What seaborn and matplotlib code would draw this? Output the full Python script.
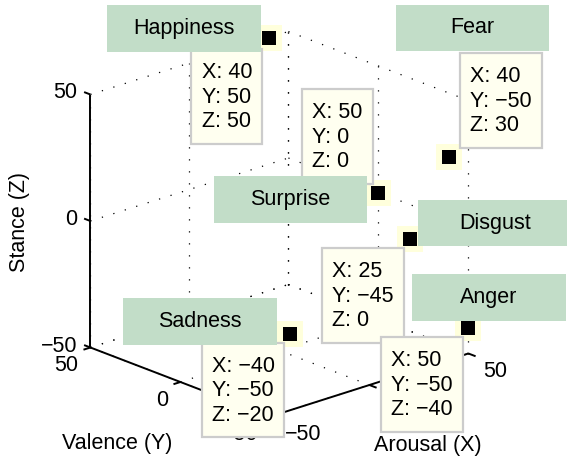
"""
3D emotion space (arousal / valence / stance) drawn on a flat axes
with a fixed orthographic projection, labels and tooltips on top.
"""

import pandas as pd
import matplotlib
matplotlib.use('Agg')
import matplotlib.pyplot as plt
from matplotlib.patches import Rectangle
import seaborn as sns

# Data
emotions = ['Happiness', 'Fear', 'Surprise', 'Disgust', 'Sadness', 'Anger']
arousal = [40, 40, 50, 25, -40, 50]
valence = [50, -50, 0, -45, -50, -50]
stance = [50, 30, 0, 0, -20, -40]
tick_values = [-50, 0, 50]

# Layout of the label and tooltip boxes, in pixels: left, top, right, bottom
label_boxes = [(107.3, 5, 260.7, 51.7), (396, 5, 549.3, 50.7), (214, 176, 367.3, 222.7),
               (418.3, 200, 571.5, 246), (123.3, 298.3, 276.7, 344.7), (412.3, 274, 565.7, 320.7)]
tip_boxes = [(191, 48.5, 262, 144), (459.5, 52.5, 541.5, 148), (301.5, 88.5, 372.5, 184),
             (322, 247.5, 403.5, 343), (202, 343, 284, 437), (380.5, 337, 462.5, 431.5)]

GREEN = '#c2ddc8'
TIP_FILL = '#fffff0'
HALO = '#ffffdc'
FONT = 'Liberation Sans'
FS = 15.5


def minus(v):
    return str(v).replace('-', '\u2212')


# Orthographic projection from data units to image pixels
def project(x, y, z):
    px = 279.4 + 1.98 * x - 1.80 * y
    py = 224 - 0.63 * x - 0.69 * y - 2.53 * z
    return px, py


sns.set_style("white")
plt.rcParams['font.family'] = [FONT, 'DejaVu Sans']
plt.rcParams['text.color'] = 'black'

fig = plt.figure(figsize=(5.67, 4.58), dpi=100)
ax = fig.add_axes([0, 0, 1, 1])
ax.set_xlim(0, 567)
ax.set_ylim(458, 0)
ax.axis('off')


def line3d(p0, p1, **kw):
    a = project(*p0)
    b = project(*p1)
    ax.plot([a[0], b[0]], [a[1], b[1]], **kw)


# Dotted grid on the back wall, the side wall and the floor
dots = dict(color='black', lw=0.9, dashes=(1, 8.6), zorder=1)
for t in tick_values:
    line3d((-50, 50, t), (50, 50, t), **dots)
    line3d((50, 50, t), (50, -50, t), **dots)
    line3d((t, 50, -50), (t, 50, 50), **dots)
    line3d((50, t, -50), (50, t, 50), **dots)
    line3d((t, 50, -50), (t, -50, -50), **dots)
    line3d((-50, t, -50), (50, t, -50), **dots)

# Solid axes
solid = dict(color='black', lw=1.4, zorder=2, solid_capstyle='butt')
line3d((-50, 50, -50), (-50, 50, 50), **solid)
line3d((-50, 50, -50), (-50, -50, -50), **solid)
line3d((-50, -50, -50), (50, -50, -50), **solid)
for t in tick_values:
    line3d((-50, 50, t), (-50, 53.5, t), **solid)
    line3d((-50, t, -50), (-53.5, t, -50), **solid)
    line3d((t, -50, -50), (t, -54, -50), **solid)

# Tick labels
for t in tick_values:
    px, py = project(-50, 50, t)
    ax.text(px - 13, py - 1.5, minus(t), ha='right', va='center', fontsize=FS, zorder=2)
    px, py = project(-50, t, -50)
    ax.text(px - 12, py + 18, minus(t), ha='right', va='center', fontsize=FS, zorder=2)
    px, py = project(t, -50, -50)
    ax.text(px + 15, py + 18, minus(t), ha='left', va='center', fontsize=FS, zorder=2)

ax.text(20, 222, 'Stance (Z)', rotation=90, ha='center', va='center', fontsize=FS)
ax.text(117.5, 444, 'Valence (Y)', ha='center', va='center', fontsize=FS)
ax.text(428, 446, 'Arousal (X)', ha='center', va='center', fontsize=FS)

# Markers through seaborn
df = pd.DataFrame({'emotion': emotions, 'x': arousal, 'y': valence, 'z': stance})
df['px'], df['py'] = project(df['x'], df['y'], df['z'])
sns.scatterplot(data=df, x='px', y='py', marker='s', s=350, color=HALO, linewidth=0, ax=ax, zorder=3)
sns.scatterplot(data=df, x='px', y='py', marker='s', s=115, color='black', linewidth=0, ax=ax, zorder=4)
ax.set_xlim(0, 567)
ax.set_ylim(458, 0)

# Tooltips under the labels
for row, box in zip(df.itertuples(), tip_boxes):
    left, top, right, bottom = box
    ax.add_patch(Rectangle((left, top), right - left, bottom - top, facecolor=TIP_FILL,
                           edgecolor='#cccccc', linewidth=1.6, zorder=5))
    mid = (top + bottom) / 2
    for offset, txt in zip((-24.3, 0, 24.3), (f'X: {minus(row.x)}', f'Y: {minus(row.y)}', f'Z: {minus(row.z)}')):
        ax.text(left + 10.5, mid + offset + 1, txt, ha='left', va='center', fontsize=FS, zorder=6)

# Green labels on top
for name, box in zip(emotions, label_boxes):
    left, top, right, bottom = box
    ax.add_patch(Rectangle((left, top), right - left, bottom - top, facecolor=GREEN,
                           edgecolor='none', zorder=7))
    ax.text((left + right) / 2, (top + bottom) / 2, name, ha='center', va='center',
            fontsize=FS, zorder=8)

fig.savefig('out.png', dpi=100)
